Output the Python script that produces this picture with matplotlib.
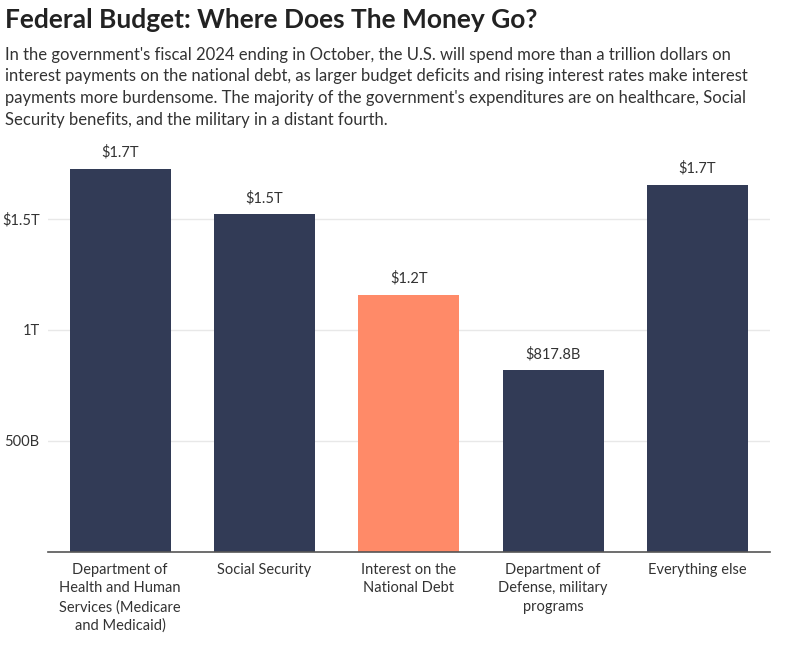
import numpy as np
import matplotlib
matplotlib.use("Agg")
import matplotlib.pyplot as plt

# spending in billions of dollars
categories = ["Department of\nHealth and Human\nServices (Medicare\nand Medicaid)",
              "Social Security",
              "Interest on the\nNational Debt",
              "Department of\nDefense, military\nprograms",
              "Everything else"]
values = [1727, 1521, 1158, 817.8, 1655]
bar_labels = ["$1.7T", "$1.5T", "$1.2T", "$817.8B", "$1.7T"]
highlight = 2

yticks = [500, 1000, 1500]
ytick_labels = ["500B", "1T", "$1.5T"]

title = "Federal Budget: Where Does The Money Go?"
subtitle = ("In the government's fiscal 2024 ending in October, the U.S. will spend more than a trillion dollars on\n"
            "interest payments on the national debt, as larger budget deficits and rising interest rates make interest\n"
            "payments more burdensome. The majority of the government's expenditures are on healthcare, Social\n"
            "Security benefits, and the military in a distant fourth.")

navy = "#323b56"
salmon = "#ff8a68"

plt.rcParams['font.family'] = ['Lato', 'DejaVu Sans']

fig = plt.figure(figsize=(7.87, 6.47), dpi=100)
ax = fig.add_axes([0.061, 0.147, 0.917, 0.621])

x = np.arange(len(values))
colors = [salmon if i == highlight else navy for i in range(len(values))]
bars = ax.bar(x, values, width=0.7, color=colors, zorder=3)

for b, lab in zip(bars, bar_labels):
    ax.text(b.get_x() + b.get_width() / 2, b.get_height() + 40, lab,
            ha="center", va="bottom", fontsize=10.5, color="#333333")

ax.set_xlim(-0.5, len(values) - 0.5)
ax.set_ylim(0, 1810)
ax.set_yticks(yticks)
ax.set_yticklabels(ytick_labels)
ax.set_xticks(x)
ax.set_xticklabels(categories, fontsize=10.5, color="#333333", linespacing=1.4, va="top")
ax.tick_params(axis="y", length=0, labelsize=10.5, labelcolor="#333333", pad=6)
ax.tick_params(axis="x", length=0, pad=8)
ax.grid(axis="y", color="#e8e8e8", linewidth=1, zorder=0)

for s in ["top", "right", "left"]:
    ax.spines[s].set_visible(False)
ax.spines["bottom"].set_color("#555555")
ax.spines["bottom"].set_linewidth(1.2)
ax.spines["bottom"].set_zorder(4)

fig.text(0.006, 0.988, title, fontsize=19, fontweight="bold", color="#222222", va="top", ha="left")
fig.text(0.006, 0.928, subtitle, fontsize=12, color="#333333", va="top", ha="left", linespacing=1.45)

fig.savefig("out.png", dpi=100)
